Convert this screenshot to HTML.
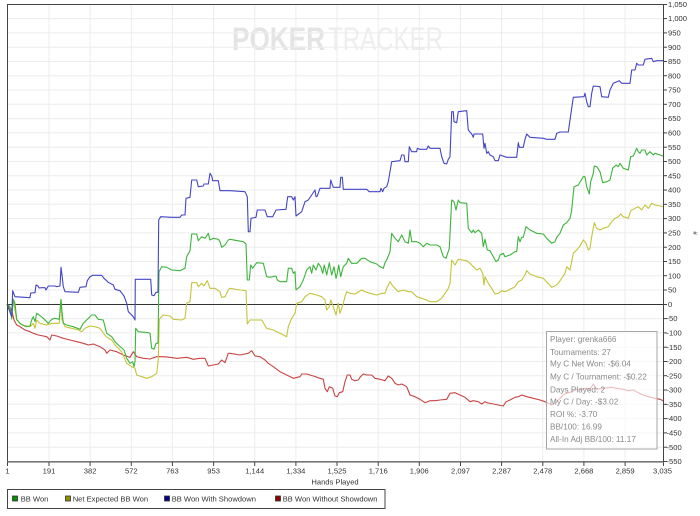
<!DOCTYPE html>
<html>
<head>
<meta charset="utf-8">
<style>
html,body{margin:0;padding:0;background:#fff;width:700px;height:516px;overflow:hidden;}
svg{display:block;}
text{font-family:"Liberation Sans",Arial,sans-serif;}
</style>
</head>
<body>
<svg width="700" height="516" viewBox="0 0 700 516" xmlns="http://www.w3.org/2000/svg">
<rect x="0" y="0" width="700" height="516" fill="#fff"/>

<!-- watermark -->
<text x="232" y="50" font-size="32" font-weight="bold" fill="#e4e4e4" textLength="93" lengthAdjust="spacingAndGlyphs">POKER</text>
<text x="328" y="50" font-size="32" fill="#eeeeee" textLength="115" lengthAdjust="spacingAndGlyphs">TRACKER</text>

<!-- horizontal grid -->
<g stroke="#ececec" stroke-width="1">
<line x1="7.5" x2="663" y1="18.6" y2="18.6"/>
<line x1="7.5" x2="663" y1="32.9" y2="32.9"/>
<line x1="7.5" x2="663" y1="47.2" y2="47.2"/>
<line x1="7.5" x2="663" y1="61.5" y2="61.5"/>
<line x1="7.5" x2="663" y1="75.7" y2="75.7"/>
<line x1="7.5" x2="663" y1="90.0" y2="90.0"/>
<line x1="7.5" x2="663" y1="104.3" y2="104.3"/>
<line x1="7.5" x2="663" y1="118.6" y2="118.6"/>
<line x1="7.5" x2="663" y1="132.9" y2="132.9"/>
<line x1="7.5" x2="663" y1="147.2" y2="147.2"/>
<line x1="7.5" x2="663" y1="161.5" y2="161.5"/>
<line x1="7.5" x2="663" y1="175.7" y2="175.7"/>
<line x1="7.5" x2="663" y1="190.0" y2="190.0"/>
<line x1="7.5" x2="663" y1="204.3" y2="204.3"/>
<line x1="7.5" x2="663" y1="218.6" y2="218.6"/>
<line x1="7.5" x2="663" y1="232.9" y2="232.9"/>
<line x1="7.5" x2="663" y1="247.2" y2="247.2"/>
<line x1="7.5" x2="663" y1="261.5" y2="261.5"/>
<line x1="7.5" x2="663" y1="275.7" y2="275.7"/>
<line x1="7.5" x2="663" y1="290.0" y2="290.0"/>
<line x1="7.5" x2="663" y1="318.6" y2="318.6"/>
<line x1="7.5" x2="663" y1="332.9" y2="332.9"/>
<line x1="7.5" x2="663" y1="347.2" y2="347.2"/>
<line x1="7.5" x2="663" y1="361.5" y2="361.5"/>
<line x1="7.5" x2="663" y1="375.7" y2="375.7"/>
<line x1="7.5" x2="663" y1="390.0" y2="390.0"/>
<line x1="7.5" x2="663" y1="404.3" y2="404.3"/>
<line x1="7.5" x2="663" y1="418.6" y2="418.6"/>
<line x1="7.5" x2="663" y1="432.9" y2="432.9"/>
<line x1="7.5" x2="663" y1="447.2" y2="447.2"/>
</g>
<!-- vertical grid -->
<g stroke="#ececec" stroke-width="1">
<line y1="4.5" y2="461" x1="49.0" x2="49.0"/>
<line y1="4.5" y2="461" x1="90.1" x2="90.1"/>
<line y1="4.5" y2="461" x1="131.3" x2="131.3"/>
<line y1="4.5" y2="461" x1="172.4" x2="172.4"/>
<line y1="4.5" y2="461" x1="213.6" x2="213.6"/>
<line y1="4.5" y2="461" x1="254.7" x2="254.7"/>
<line y1="4.5" y2="461" x1="295.9" x2="295.9"/>
<line y1="4.5" y2="461" x1="337.0" x2="337.0"/>
<line y1="4.5" y2="461" x1="378.2" x2="378.2"/>
<line y1="4.5" y2="461" x1="419.3" x2="419.3"/>
<line y1="4.5" y2="461" x1="460.5" x2="460.5"/>
<line y1="4.5" y2="461" x1="501.6" x2="501.6"/>
<line y1="4.5" y2="461" x1="542.8" x2="542.8"/>
<line y1="4.5" y2="461" x1="583.9" x2="583.9"/>
<line y1="4.5" y2="461" x1="625.1" x2="625.1"/>
</g>

<!-- zero line -->
<line x1="7.5" x2="663.5" y1="304.5" y2="304.5" stroke="#333" stroke-width="1"/>

<!-- series -->
<g fill="none" stroke-width="1.1" stroke-linejoin="round">
<polyline stroke="#c84444" points="7,304 11.7,310 14,320 16.7,325 20,326.7 25,330 30,331.7 33.3,333.3 38.3,335 46.7,336.7 50,340 51.7,335 56.7,336 63.3,338.3 70,340 76.7,341.7 83.3,343.3 88.3,345 93.3,344 100,346.7 105,350 106.7,353.3 110,350 116.7,351.7 123.3,355 130,357.3 133.3,351.7 136.7,356.7 143.3,358.3 150,359 156.7,356.7 163.3,356.7 170,357.3 176.7,358.3 186.7,357.3 193.3,359.3 200,358.3 205,358.3 208.3,366 213.3,365 218.3,364 221.7,360 225,362.7 228.3,353.3 230,353.3 240,355 248.3,353.3 251.7,350.7 255,356 260,356.7 265,360 268.3,363.3 273.3,366.7 280,371.7 286.7,375 293.3,378.3 300,376.7 301.7,374 306.7,374 313.3,376 320,378.3 323.3,379.3 325,388.3 327.3,391.7 329.3,386.7 332.7,388.3 335,396 337.3,396.7 339.3,392.7 342.7,391.7 345,381.7 347.3,375 350,375 351.7,379.3 355,380.7 358.3,380 360,377.3 363.3,374 366.7,375 371.7,375 375,378.3 380,379.3 385,380.7 388.3,376 391.7,378.3 395,383.3 398.3,385 401.7,384 406.7,386.7 410,395 415,396.7 420,399.3 425,402.7 430,400.7 435,400.7 440,400 446.7,399.3 450,393.3 455,392.7 460,395 465,397.3 470,401.7 473.3,400.7 478.3,401.7 481.7,404 485,401.7 486.7,402.7 493.3,404 498.3,405 503.3,406 506,401.7 510,400 515,397.3 518.3,396.7 521.7,395 526.7,396.7 533.3,398.3 540,400 545,401.7 548.3,403.3 551.7,405 555,403.3 558.3,400 563.3,395 566.7,393.3 571.7,391.7 576.7,389.3 580,390 585,388.3 590,389.3 593.3,384 596.7,389.3 603.3,388.3 611.7,387.3 616.7,388.3 623.3,389.3 628.3,390.7 633.3,390 638.3,392.7 643.3,395 648.3,396.7 655,398.3 660,399.3 663,400.7"/>
<polyline stroke="#c4c43c" points="7,304 11.7,313.3 13.3,300 15,310 16.7,320 21.7,325 30,326.7 33.3,323.3 35,328.3 36.7,320 40,323.3 46.7,325 51.7,323.3 59.3,323.3 61,300 62,320 65,326.7 71.7,328.3 78.3,330 81.7,331.7 85,328.3 90,326 95,326.7 100,328.3 106,336.7 111.7,340 115,345 121.7,351.7 126.7,363.3 131.7,366.7 135,368.3 136.7,375 141.7,376.7 146.7,378.3 151.7,376.7 156.7,373.3 158.3,360 159.3,319.3 163.3,315 170,316 173.3,319.3 181.7,320 185,318.3 186.7,303.3 190,301.7 191.7,282.7 196.7,282.7 198.3,286.7 201.7,283.3 204,286 207.3,280.7 210,288.3 215,288.3 220,291.7 221.7,297.3 225,296.7 228.3,290 230,288.3 240,290 246,290.7 247.3,324 250,320 261.7,320 266.7,328.3 273.3,330 280,333.3 286.7,336.7 288.3,326.7 291.7,318.3 295,313.3 296.7,303.3 301.7,301.7 305,296.7 310,293.3 316.7,295 321.7,296.7 325,300 326.7,310 329.3,306.7 330.7,300 333.3,306.7 336,315 338.3,303.3 340,313.3 343.3,303.3 345,296.7 346.7,291.7 350,293.3 355,294 361.7,290 365,291.7 370,293.3 376.7,295 381.7,293.3 385,293.3 386.7,288.3 390,281.7 392.7,286 395,288.3 398.3,291.7 403.3,290 408.3,291.7 411.7,291.7 416.7,296.7 421.7,298.3 426.7,300 430,301.7 436.7,301.7 441.7,298.3 445,293.3 448.3,288.3 450,283.3 451.7,260 455,265 458.3,259.3 466.7,260.7 470,263.3 473.3,266.7 476.7,270 480,268.3 482.7,273.3 484,285 485,276.7 488.3,283.3 491.7,288.3 495,294 498.3,293.3 501.7,290.7 505,291.7 510,289.3 515,286.7 518.3,281.7 521.7,280 525,275 526.7,270.7 530,274 536.7,276.7 543.3,278.3 547.3,282.7 551.7,287.3 555,286 558.3,283.3 561.7,278.3 565,273.3 566.7,266.7 570,270 573.3,253.3 576.7,250 580,246 583.3,240 586,243.3 588.3,250 590,248.3 591.7,236.7 594.3,222.7 596.7,228.3 600,230 603.3,228.3 608.3,226.7 611.7,221.7 615,218.3 618.3,216.7 620.7,214 623.3,216.7 628.3,218.3 630.7,210.7 635,208.3 638.3,206.7 641.7,210 645,205 648.3,208.3 651.7,203.3 655,205 660,206 663,206.7"/>
<polyline stroke="#3cb43c" points="7,304 10,306.7 11.7,319 13.3,299.3 15,303.3 16.7,319.3 20,323.3 26,326.7 30,326 31.7,320 33.3,316.7 35,321.7 36.7,313.3 39.3,315 43.3,318.3 48.3,323.3 51.7,319.3 55,318.3 59.3,319.3 61,299.3 62,311.7 63.3,323.3 66.7,325 73.3,326.7 80,329.3 83.3,323.3 86.7,320 91.7,315 95,315 98.3,319.3 103.3,320 106.7,333.3 111.7,336.7 115,341.7 118.3,345 124,350 126.7,358.3 130,363.3 132.7,361.7 134,366.7 135,361.7 135.7,328.3 138.3,331.7 148.3,332.7 150,333.3 151.7,348.3 154,349.3 156,343.3 158,343.3 159,271.7 161.7,266.7 166.7,267.3 171.7,270 180,270.7 185,268.3 186.7,256.7 190,250.7 191.7,234 196.7,234 198.3,240.7 201.7,236.7 205,238.3 208.3,233.3 210,240 213.3,238.3 218.3,239.3 220,241.7 221.7,247.3 225,245 228.3,240 230,239.3 243.3,241.7 246,244 247.3,280 249.3,280 250.7,265 252.7,268.3 256.7,262.7 263.3,263.3 266.7,276.7 270,277.3 276,276 277.3,280 280,281.7 286.7,281.7 288.3,268.3 291.7,268.3 293.3,273.3 295,271.7 296,290 300,286.7 303.3,280 306.7,270 310,266.7 311.7,273.3 313.3,265 316,270 318.3,263.3 320.7,266.7 322.7,273.3 324.3,265 326.7,275 329.3,262.7 331.7,275 334,266.7 336,278.3 337.3,273.3 338.7,265 340.7,276.7 343.3,266.7 346.7,263.3 348.3,258.3 351.7,263.3 356.7,263.3 361.7,258.3 365,258.3 370,261.7 376.7,264 380,266.7 383.3,268.3 385,262.7 386.7,260 390,251.7 391.7,233.3 395,238.3 398.3,241.7 401.7,235 405,241.7 408.3,243.3 410,230 411.7,241.7 416.7,241.7 420,243.3 423.3,246.7 426.7,243.3 430,245 436.7,245 440,246.7 443.3,256.7 446,258.3 449.3,248.3 451.7,200 454,201.7 456,210 458.3,200 460,202.7 466.7,203.3 468.3,228.3 471.7,232.7 473.3,230 475,232.7 478.3,230 481.7,233.3 483.3,246.7 485,239.3 487.3,250 490,250.7 493.3,256.7 496,261.7 498.3,260 500,255 503.3,253.3 505,256.7 510,255 515,251.7 516.7,251.7 518.3,236.7 520,241.7 521.7,237.3 523.3,237.3 526,226.7 530,230 536.7,233.3 543.3,234 546.7,238.3 551.7,243.3 555,241.7 556.7,237.3 560,233.3 563.3,225 566.7,222.7 570,218.3 571.7,210 574,186.7 578.3,185 583.3,176.7 585,176.7 586.7,186.7 589.3,194 590.7,181.7 593.3,173.3 594.3,166 596.7,166.7 600,171.7 602.7,182.7 606.7,181.7 610,180 612.7,168.3 616,165 618.3,166.7 620,163.3 623.3,168.3 628.3,170 630.7,156.7 633.3,156 636.7,148.3 638.3,151.7 640,153.3 641.7,150 645,150 646.7,155 650,151.7 653.3,155 655,153.3 660,155 663,156"/>
<polyline stroke="#4444c4" points="7,304 11.7,316.7 12.7,290.7 15,296.7 30,297.7 30.7,293 35,292.7 36,285 38,286 39,288 41.7,287.7 45,287.7 46,290 48.3,286 55,286 56.7,286.7 60,286 61,267.3 62,275 63.3,286.7 65,291.7 78.3,292.3 80,287.3 86,286.7 87.3,280.7 90,276.7 92.7,275.3 101.7,275.3 104,278.3 108.3,282.3 113.3,285 115,289.3 120,290.7 124,296 126.7,303.3 128.3,311.7 131.7,315 133.3,316.7 135,320 135.3,279.3 150.7,279.3 151.7,295 154,295.7 156,292.3 158,292.3 158.7,220 160.7,216.7 171.7,217.3 180,217.3 181.7,215 185,215 186,198.3 190,197.3 191.7,180 196.7,180 198.3,186.7 203.3,186 204,184 208.3,184 210,173.3 211.7,176 212.7,180.7 218.3,180.7 220,190.7 230,190.7 245,191.7 247.3,196.7 248.3,231.7 250,231.7 251,218.3 256,217.3 257.3,210 265,210 267.3,216.7 272.7,216.7 276,210 286,209.3 287.7,196.7 291.7,196.7 293.3,200 295,196.7 296,216 301.7,211.7 305,201.7 308.3,200 311.7,195 315,190 316,196.7 317.3,196 320,188.3 330,188.3 330.7,180 333.3,187.3 340,187.3 340.7,177.3 342.3,177.3 343.3,189.3 366.7,189.3 369.3,191.7 380,191.7 381,188.3 382.7,191.7 384,188.3 386.7,186.7 388.3,181.7 391.7,161.7 400,160.7 401.7,155 404,155 405,161.7 408.3,161.7 409.3,146.7 411.7,151.7 416.7,151.7 417.3,148.3 420,149.3 426.7,149.3 428.3,146 430,148.3 440,148.3 441.7,156.7 444,163.3 446.7,164 448.3,159.3 450,156.7 451.7,111.7 453.3,111.7 454,121.7 456.7,122.7 458.3,111.7 466.7,110.7 468.3,130 471.7,134 473.3,137.3 474,134 482.7,134 484,148.3 485,143.3 486.7,153.3 488.3,151.7 490,155 493.3,156.7 495,160.7 498.3,160.7 500,155 506.7,157.3 516.7,157.3 518.3,142.7 519.3,147.3 523.3,147.3 525,139.3 526.7,134 530,137.3 543.3,138.3 546.7,139.3 555,139.3 556.7,133.3 560,132 568.3,132 570,120 573.3,97.3 584,96.7 585,93.3 586.7,101.7 588.3,106.7 590,106.7 591.7,93.3 593.3,86 600,86.7 601.7,96.7 608.3,97.3 610,90 613.3,83.3 619.3,80.7 621.7,83.3 630,83.3 631.7,70 635,70 636.7,63.3 638.3,65 643.3,65 645,59.3 651.7,58.3 653.3,61.7 656.7,60.7 663,60.7"/>
</g>

<!-- axes -->
<line x1="7.5" x2="663.5" y1="4.5" y2="4.5" stroke="#444" stroke-width="1"/>
<line x1="7.5" x2="7.5" y1="4" y2="462" stroke="#444" stroke-width="1"/>
<line x1="663.5" x2="663.5" y1="4" y2="466" stroke="#444" stroke-width="1"/>
<line x1="7" x2="664" y1="461.8" y2="461.8" stroke="#777" stroke-width="1.6"/>

<!-- y ticks -->
<g stroke="#444" stroke-width="1">
<line x1="663" x2="667" y1="4.5" y2="4.5"/><line x1="663" x2="667" y1="18.6" y2="18.6"/><line x1="663" x2="667" y1="32.9" y2="32.9"/><line x1="663" x2="667" y1="47.2" y2="47.2"/><line x1="663" x2="667" y1="61.5" y2="61.5"/><line x1="663" x2="667" y1="75.7" y2="75.7"/><line x1="663" x2="667" y1="90" y2="90"/><line x1="663" x2="667" y1="104.3" y2="104.3"/><line x1="663" x2="667" y1="118.6" y2="118.6"/><line x1="663" x2="667" y1="132.9" y2="132.9"/><line x1="663" x2="667" y1="147.2" y2="147.2"/><line x1="663" x2="667" y1="161.5" y2="161.5"/><line x1="663" x2="667" y1="175.7" y2="175.7"/><line x1="663" x2="667" y1="190" y2="190"/><line x1="663" x2="667" y1="204.3" y2="204.3"/><line x1="663" x2="667" y1="218.6" y2="218.6"/><line x1="663" x2="667" y1="232.9" y2="232.9"/><line x1="663" x2="667" y1="247.2" y2="247.2"/><line x1="663" x2="667" y1="261.5" y2="261.5"/><line x1="663" x2="667" y1="275.7" y2="275.7"/><line x1="663" x2="667" y1="290" y2="290"/><line x1="663" x2="667" y1="304.5" y2="304.5"/><line x1="663" x2="667" y1="318.6" y2="318.6"/><line x1="663" x2="667" y1="332.9" y2="332.9"/><line x1="663" x2="667" y1="347.2" y2="347.2"/><line x1="663" x2="667" y1="361.5" y2="361.5"/><line x1="663" x2="667" y1="375.7" y2="375.7"/><line x1="663" x2="667" y1="390" y2="390"/><line x1="663" x2="667" y1="404.3" y2="404.3"/><line x1="663" x2="667" y1="418.6" y2="418.6"/><line x1="663" x2="667" y1="432.9" y2="432.9"/><line x1="663" x2="667" y1="447.2" y2="447.2"/><line x1="663" x2="667" y1="461.5" y2="461.5"/>
</g>
<!-- x ticks -->
<g stroke="#444" stroke-width="1">
<line y1="462" y2="466" x1="7.5" x2="7.5"/><line y1="462" y2="466" x1="49" x2="49"/><line y1="462" y2="466" x1="90.1" x2="90.1"/><line y1="462" y2="466" x1="131.3" x2="131.3"/><line y1="462" y2="466" x1="172.4" x2="172.4"/><line y1="462" y2="466" x1="213.6" x2="213.6"/><line y1="462" y2="466" x1="254.7" x2="254.7"/><line y1="462" y2="466" x1="295.9" x2="295.9"/><line y1="462" y2="466" x1="337" x2="337"/><line y1="462" y2="466" x1="378.2" x2="378.2"/><line y1="462" y2="466" x1="419.3" x2="419.3"/><line y1="462" y2="466" x1="460.5" x2="460.5"/><line y1="462" y2="466" x1="501.6" x2="501.6"/><line y1="462" y2="466" x1="542.8" x2="542.8"/><line y1="462" y2="466" x1="583.9" x2="583.9"/><line y1="462" y2="466" x1="625.1" x2="625.1"/>
</g>

<!-- y labels -->
<g font-size="7.6" fill="#333">
<text x="668" y="7.1">1,050</text>
<text x="668" y="21.2">1,000</text>
<text x="668" y="35.5">950</text>
<text x="668" y="49.8">900</text>
<text x="668" y="64.1">850</text>
<text x="668" y="78.3">800</text>
<text x="668" y="92.6">750</text>
<text x="668" y="106.9">700</text>
<text x="668" y="121.2">650</text>
<text x="668" y="135.5">600</text>
<text x="668" y="149.8">550</text>
<text x="668" y="164.1">500</text>
<text x="668" y="178.3">450</text>
<text x="668" y="192.6">400</text>
<text x="668" y="206.9">350</text>
<text x="668" y="221.2">300</text>
<text x="668" y="235.5">250</text>
<text x="668" y="249.8">200</text>
<text x="668" y="264.1">150</text>
<text x="668" y="278.3">100</text>
<text x="668" y="292.6">50</text>
<text x="668" y="306.9">0</text>
<text x="666.5" y="321.2">-50</text>
<text x="666.5" y="335.5">-100</text>
<text x="666.5" y="349.8">-150</text>
<text x="666.5" y="364.1">-200</text>
<text x="666.5" y="378.3">-250</text>
<text x="666.5" y="392.6">-300</text>
<text x="666.5" y="406.9">-350</text>
<text x="666.5" y="421.2">-400</text>
<text x="666.5" y="435.5">-450</text>
<text x="666.5" y="449.8">-500</text>
<text x="666.5" y="464.1">-550</text>
</g>
<text x="693" y="233" font-size="6" fill="#333" transform="rotate(90 693 233)" text-anchor="middle">#</text>

<!-- x labels -->
<g font-size="7.6" fill="#333" text-anchor="middle">
<text x="7.5" y="473.6">1</text>
<text x="49" y="473.6">191</text>
<text x="90.1" y="473.6">382</text>
<text x="131.3" y="473.6">572</text>
<text x="172.4" y="473.6">763</text>
<text x="213.6" y="473.6">953</text>
<text x="254.7" y="473.6">1,144</text>
<text x="295.9" y="473.6">1,334</text>
<text x="337" y="473.6">1,525</text>
<text x="378.2" y="473.6">1,716</text>
<text x="419.3" y="473.6">1,906</text>
<text x="460.5" y="473.6">2,097</text>
<text x="501.6" y="473.6">2,287</text>
<text x="542.8" y="473.6">2,478</text>
<text x="583.9" y="473.6">2,668</text>
<text x="625.1" y="473.6">2,859</text>
<text x="662.5" y="473.6">3,035</text>
</g>
<text x="335" y="484.3" font-size="7.6" fill="#333" text-anchor="middle">Hands Played</text>

<!-- stats box -->
<rect x="546.5" y="331.5" width="110.5" height="117.5" fill="#fff" fill-opacity="0.65" stroke="#a6a6a6" stroke-width="1"/>
<g font-size="8.2" fill="#8a8a8a">
<text x="550" y="342">Player: grenka666</text>
<text x="550" y="355">Tournaments: 27</text>
<text x="550" y="366.5">My C Net Won: -$6.04</text>
<text x="550" y="379.5">My C / Tournament: -$0.22</text>
<text x="550" y="392.3">Days Played: 2</text>
<text x="550" y="404.7">My C / Day: -$3.02</text>
<text x="550" y="417.2">ROI %: -3.70</text>
<text x="550" y="429.7">BB/100: 16.99</text>
<text x="550" y="442">All-In Adj BB/100: 11.17</text>
</g>

<!-- legend -->
<rect x="7.5" y="489.5" width="377.5" height="19" fill="#fff" stroke="#444" stroke-width="1"/>
<g stroke="#333" stroke-width="0.8">
<rect x="12.5" y="496" width="5" height="5" fill="#009000"/>
<rect x="65.5" y="496" width="5" height="5" fill="#909000"/>
<rect x="164.5" y="496" width="5" height="5" fill="#000090"/>
<rect x="275.5" y="496" width="5" height="5" fill="#900000"/>
</g>
<g font-size="7.6" fill="#333">
<text x="20.7" y="501.5">BB Won</text>
<text x="72.7" y="501.5">Net Expected BB Won</text>
<text x="171.7" y="501.5">BB Won With Showdown</text>
<text x="282.7" y="501.5">BB Won Without Showdown</text>
</g>
</svg>
</body>
</html>
